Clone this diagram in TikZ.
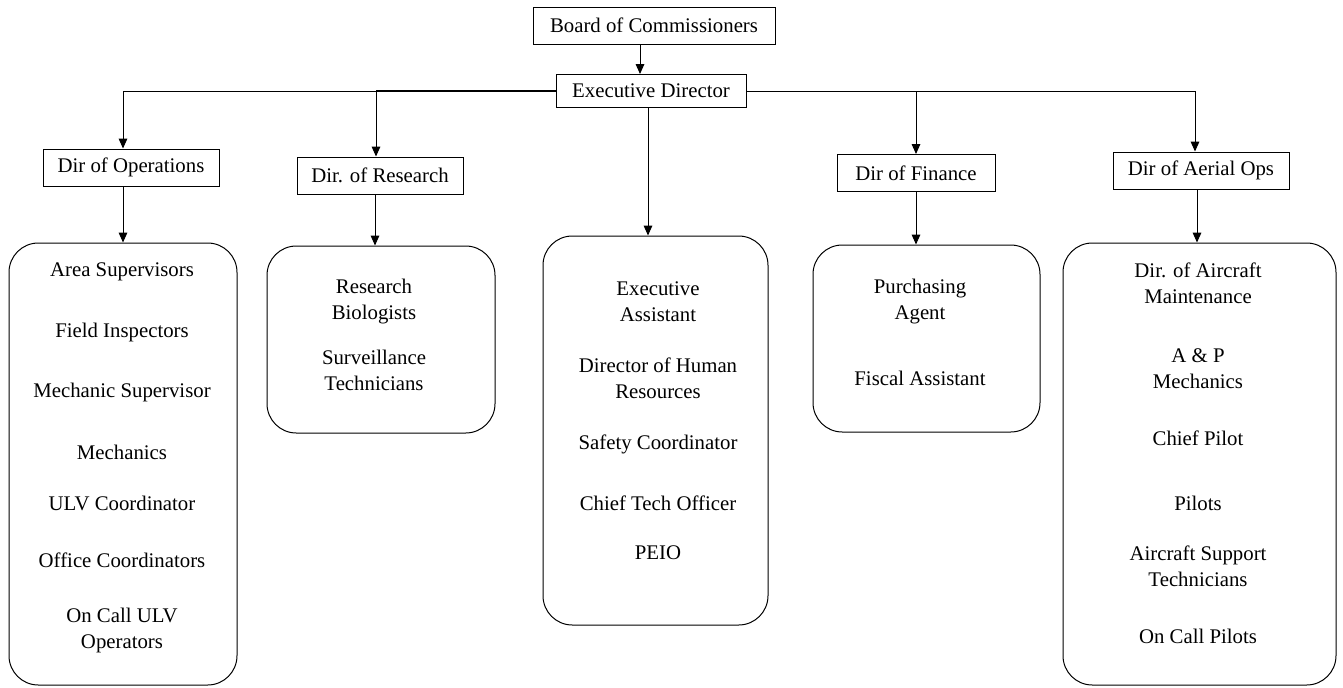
\documentclass[tikz,border=0pt]{standalone}
\usepackage{fontspec}
\setmainfont{Liberation Serif}
\usetikzlibrary{arrows.meta}
\tikzset{
  head/.style={draw, line width=0.75pt, inner sep=0pt, minimum height=37*0.75pt},
  group/.style={draw, line width=0.75pt, rounded corners=22pt},
  item/.style={align=center},
  conn/.style={line width=0.75pt, -{Triangle[length=7.5pt,width=6.5pt]}}
}
\begin{document}
\begin{tikzpicture}[x=0.75pt, y=-0.75pt, font=\rmfamily\fontsize{15.6}{19.5}\selectfont]
\useasboundingbox (0,0) rectangle (1343,687);
% top of the chart
\node[head, minimum width=242*0.75pt] (board) at (654,25.5) {Board of Commissioners};
\node[head, minimum width=190*0.75pt, minimum height=33*0.75pt] (exec) at (651,91) {Executive Director};
% directors
\node[head, minimum width=176*0.75pt] (ops) at (131,167.5) {Dir of Operations};
\node[head, minimum width=166*0.75pt] (res) at (380,175.5) {Dir. of Research};
\node[head, minimum width=158*0.75pt] (fin) at (916,173) {Dir of Finance};
\node[head, minimum width=176*0.75pt] (aer) at (1201,170.5) {Dir of Aerial Ops};
% staff groups
\node[group, minimum width=228*0.75pt, minimum height=442*0.75pt] (opsg) at (123,464) {};
\node[group, minimum width=228*0.75pt, minimum height=187*0.75pt] (resg) at (381,339.5) {};
\node[group, minimum width=225*0.75pt, minimum height=389*0.75pt] (exg) at (655.5,430.5) {};
\node[group, minimum width=227*0.75pt, minimum height=187*0.75pt] (fing) at (926.5,338.5) {};
\node[group, minimum width=273*0.75pt, minimum height=442*0.75pt] (aerg) at (1199.5,464) {};
% staff names
\foreach \y/\t [count=\i] in {272/Area Supervisors, 332/Field Inspectors, 392/Mechanic Supervisor, 452/Mechanics, 503/ULV Coordinator, 560/Office Coordinators, 630/On Call ULV\\Operators}
  \node[item] (opsi\i) at (122,\y) {\t};
\foreach \y/\t [count=\i] in {301.5/Research\\Biologists, 370/Surveillance\\Technicians}
  \node[item] (resi\i) at (374,\y) {\t};
\foreach \y/\t [count=\i] in {301.5/Executive\\Assistant, 378/Director of Human\\Resources, 444/Safety Coordinator, 503/Chief Tech Officer, 553/PEIO}
  \node[item] (exi\i) at (658,\y) {\t};
\foreach \y/\t [count=\i] in {301.5/Purchasing\\Agent, 378/Fiscal Assistant}
  \node[item] (fini\i) at (920,\y) {\t};
\foreach \y/\t [count=\i] in {283/Dir. of Aircraft\\Maintenance, 369/A \& P\\Mechanics, 438/Chief Pilot, 503/Pilots, 566/Aircraft Support\\Technicians, 636/On Call Pilots}
  \node[item] (aeri\i) at (1198,\y) {\t};
% connectors
\draw[conn] (board.south -| 640,0) -- (exec.north -| 640,0);
\draw[conn] (exec.west) -| (ops.north -| 123,0);
\draw[line width=1.4pt] (exec.west) -- (376,91);
\draw[conn] (exec.west) -| (res.north -| 376,0);
\draw[conn] (exec.east) -| (fin.north -| 916,0);
\draw[conn] (exec.east) -| (aer.north -| 1195,0);
\draw[conn] (ops.south -| 123,0) -- (opsg.north -| 123,0);
\draw[conn] (res.south -| 375,0) -- (resg.north -| 375,0);
\draw[conn] (exec.south -| 648,0) -- (exg.north -| 648,0);
\draw[conn] (fin.south) -- (fing.north -| 916,0);
\draw[conn] (aer.south -| 1197,0) -- (aerg.north -| 1197,0);
\end{tikzpicture}
\end{document}
